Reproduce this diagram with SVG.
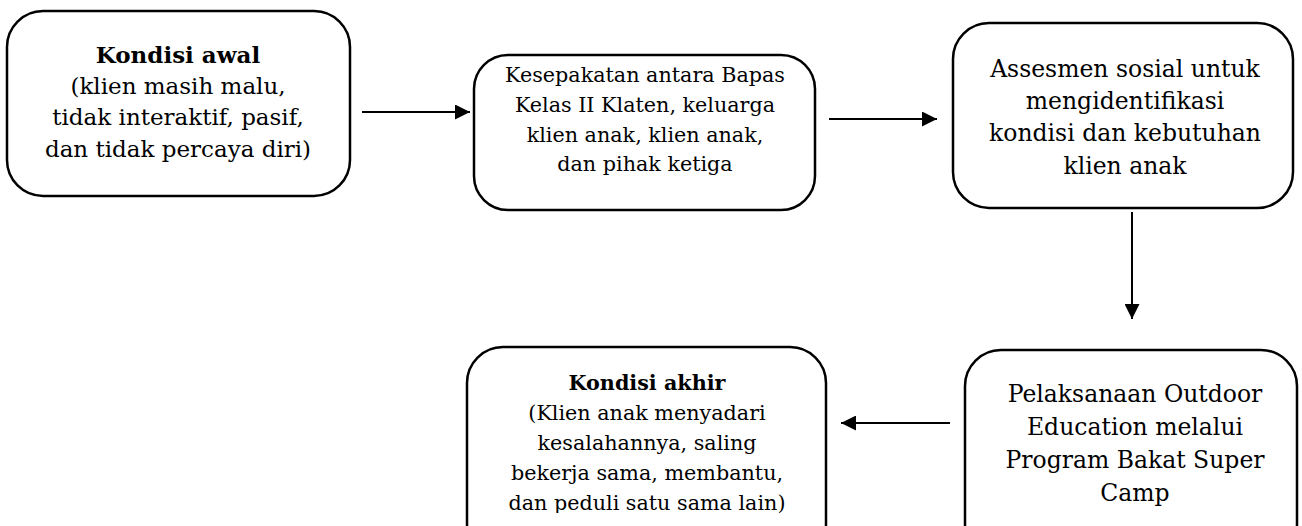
<svg xmlns="http://www.w3.org/2000/svg" width="1302" height="526" viewBox="0 0 1302 526">
<style>
.box{fill:#fff;stroke:#000;stroke-width:2.5}
.t{font-family:"DejaVu Serif","Liberation Serif",serif;fill:#000;text-anchor:middle}
.l{font-size:23px}
.m{font-size:23.5px}
.s{font-size:20.7px}
.b{font-weight:bold}
.c{stroke:#000;stroke-width:2;fill:none}
</style>
<defs>
<marker id="ah" viewBox="0 0 10 10" refX="10" refY="5" markerWidth="7.5" markerHeight="7.5" orient="auto" markerUnits="strokeWidth">
<path d="M0,0 L10,5 L0,10 z" fill="#000"/>
</marker>
<clipPath id="clip4"><rect x="460" y="340" width="380" height="173"/></clipPath>
</defs>
<rect width="1302" height="526" fill="#fff"/>
<g id="node-awal">
<rect class="box" x="7" y="11" width="343" height="185" rx="36"/>
<text class="t l b" x="178" y="63">Kondisi awal</text>
<text class="t l" x="178" y="94">(klien masih malu,</text>
<text class="t l" x="178" y="125">tidak interaktif, pasif,</text>
<text class="t l" x="178" y="157">dan tidak percaya diri)</text>
</g>
<g id="node-kesepakatan">
<rect class="box" x="474" y="55" width="341" height="155" rx="34"/>
<text class="t s" x="645" y="82">Kesepakatan antara Bapas</text>
<text class="t s" x="645" y="112">Kelas II Klaten, keluarga</text>
<text class="t s" x="645" y="142">klien anak, klien anak,</text>
<text class="t s" x="645" y="171">dan pihak ketiga</text>
</g>
<g id="node-assesmen">
<rect class="box" x="953" y="23" width="340" height="185" rx="36"/>
<text class="t m" x="1125" y="77">Assesmen sosial untuk</text>
<text class="t m" x="1125" y="109">mengidentifikasi</text>
<text class="t m" x="1125" y="141">kondisi dan kebutuhan</text>
<text class="t m" x="1125" y="174">klien anak</text>
</g>
<g id="node-pelaksanaan">
<rect class="box" x="965" y="350" width="332" height="210" rx="36"/>
<text class="t m" x="1135" y="402">Pelaksanaan Outdoor</text>
<text class="t m" x="1135" y="435">Education melalui</text>
<text class="t m" x="1135" y="468">Program Bakat Super</text>
<text class="t m" x="1135" y="501">Camp</text>
</g>
<g id="node-akhir">
<rect class="box" x="467" y="347" width="359" height="213" rx="36"/>
<g clip-path="url(#clip4)">
<text class="t s b" x="647" y="390">Kondisi akhir</text>
<text class="t s" x="647" y="420">(Klien anak menyadari</text>
<text class="t s" x="647" y="450">kesalahannya, saling</text>
<text class="t s" x="647" y="480">bekerja sama, membantu,</text>
<text class="t s" x="647" y="510">dan peduli satu sama lain)</text>
</g>
</g>
<g id="connectors">
<line class="c" x1="362" y1="112" x2="470" y2="112" marker-end="url(#ah)"/>
<line class="c" x1="829" y1="119" x2="937" y2="119" marker-end="url(#ah)"/>
<line class="c" x1="1132" y1="212" x2="1132" y2="319" marker-end="url(#ah)"/>
<line class="c" x1="950" y1="423" x2="841" y2="423" marker-end="url(#ah)"/>
</g>
</svg>
